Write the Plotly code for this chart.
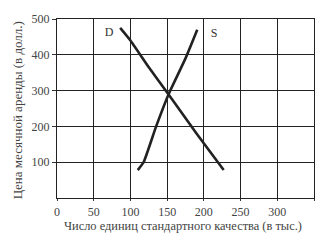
import plotly.graph_objects as go

# Data
d_x = [86, 100, 125, 152, 190, 227]
d_y = [475, 440, 365, 289, 180, 78]
s_x = [110, 118, 135, 152, 175, 191]
s_y = [78, 100, 200, 290, 390, 470]
x_ticks = [0, 50, 100, 150, 200, 250, 300]
y_ticks = [100, 200, 300, 400, 500]
labels = ["D", "S"]
label_x = [71, 214]
label_y = [462, 459]

FONT = "Liberation Serif"
TXT = "#444444"

fig = go.Figure()
fig.add_trace(go.Scatter(x=d_x, y=d_y, mode="lines", line=dict(color="#222222", width=2.6, shape="spline", smoothing=0.4), showlegend=False))
fig.add_trace(go.Scatter(x=s_x, y=s_y, mode="lines", line=dict(color="#222222", width=2.6, shape="spline", smoothing=0.4), showlegend=False))
fig.add_trace(go.Scatter(x=label_x, y=label_y, mode="text", text=labels,
                         textfont=dict(family=FONT, size=12, color="#333333"), showlegend=False))

fig.update_layout(
    width=332, height=242,
    margin=dict(l=57, r=18, t=16, b=44),
    paper_bgcolor="white", plot_bgcolor="white",
    font=dict(family=FONT, color=TXT),
)
fig.update_xaxes(range=[0, 350], tickvals=x_ticks + [350], ticktext=[str(v) for v in x_ticks] + [""],
                 showgrid=True, gridcolor="#222222", gridwidth=1,
                 showline=True, linecolor="#222222", linewidth=1.2, mirror=True,
                 ticks="outside", ticklen=2, tickcolor="#333333",
                 tickfont=dict(family=FONT, size=12, color=TXT), zeroline=False, fixedrange=True)
fig.update_yaxes(range=[0, 500], tickvals=y_ticks,
                 showgrid=True, gridcolor="#222222", gridwidth=1,
                 showline=True, linecolor="#222222", linewidth=1.2, mirror=True,
                 ticks="outside", ticklen=4, tickcolor="#333333",
                 tickfont=dict(family=FONT, size=12, color=TXT), zeroline=False, fixedrange=True)

fig.add_annotation(text="Число единиц стандартного качества (в тыс.)", xref="paper", yref="paper",
                   x=0.49, y=0, yshift=-28, showarrow=False, yanchor="middle",
                   font=dict(family=FONT, size=12.4, color=TXT))
fig.add_annotation(text="Цена месячной аренды (в долл.)", xref="paper", yref="paper",
                   x=0, xshift=-40, y=0.49, textangle=-90, showarrow=False, xanchor="center",
                   font=dict(family=FONT, size=13, color=TXT))

fig.write_html("out.html")
